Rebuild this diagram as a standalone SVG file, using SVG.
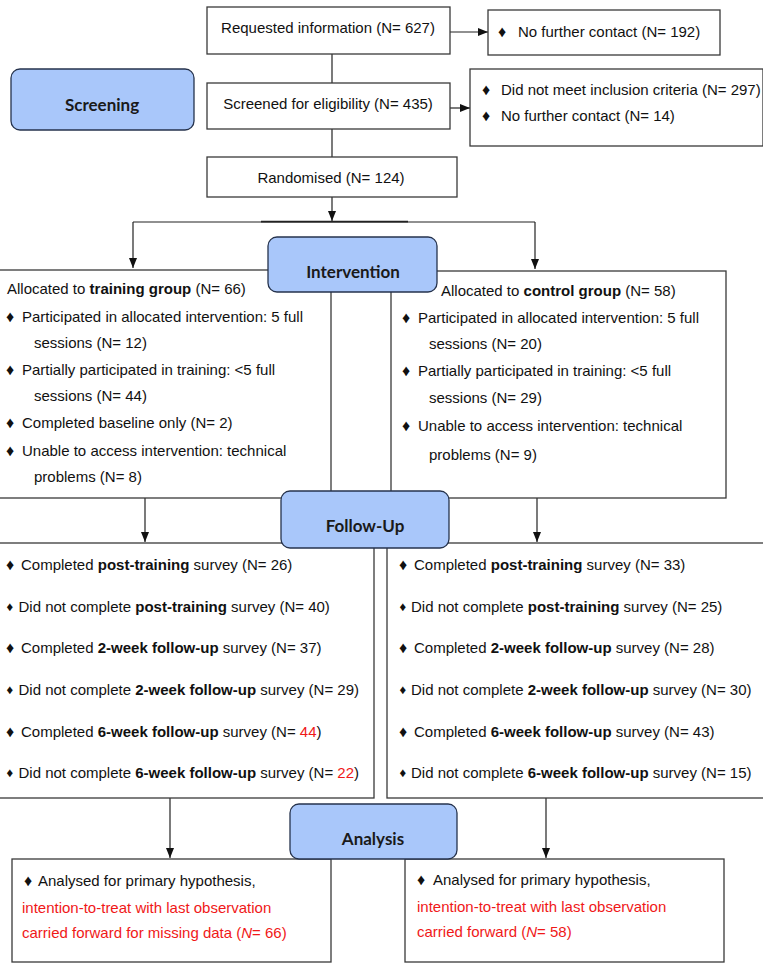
<svg xmlns="http://www.w3.org/2000/svg" width="763" height="972" viewBox="0 0 763 972">
<style>
.box{fill:#fff;stroke:#3a3a3a;stroke-width:1.3}
.lbl{fill:#a9c7fa;stroke:#26334d;stroke-width:1.3}
.t{font-family:"Liberation Sans",Arial,sans-serif;font-size:15px;fill:#111}
.b{font-weight:bold}
.r{fill:#f01818}
.bu{font-family:"Liberation Sans",Arial,sans-serif;font-size:16px;fill:#111}
.bs{font-family:"Liberation Sans",Arial,sans-serif;font-size:13px;fill:#111}
.h{font-family:Lato,"Open Sans",sans-serif;font-weight:bold;font-size:17px;fill:#1a1a1a;text-anchor:middle}
.c{fill:none;stroke:#222;stroke-width:1.2}
</style>
<defs>
<marker id="ah" markerUnits="userSpaceOnUse" markerWidth="10" markerHeight="10" viewBox="0 0 10 10" refX="10" refY="5" orient="auto">
<path d="M0,1 L10,5 L0,9 Z" fill="#111"/>
</marker>
</defs>
<rect width="763" height="972" fill="#fff"/>

<g id="connectors">
<line class="c" x1="332" y1="54" x2="332" y2="83"/>
<line class="c" x1="450" y1="32" x2="488" y2="32" marker-end="url(#ah)"/>
<line class="c" x1="450" y1="108" x2="470" y2="108" marker-end="url(#ah)"/>
<line class="c" x1="332" y1="129" x2="332" y2="157"/>
<line class="c" x1="332" y1="197" x2="332" y2="221" marker-end="url(#ah)"/>
<polyline class="c" points="133,222 535,222"/>
<line x1="261" y1="221.6" x2="408" y2="221.6" stroke="#222" stroke-width="1.6"/>
<line class="c" x1="133" y1="222" x2="133" y2="268" marker-end="url(#ah)"/>
<line class="c" x1="535" y1="222" x2="535" y2="269" marker-end="url(#ah)"/>
<line class="c" x1="145" y1="498" x2="145" y2="542" marker-end="url(#ah)"/>
<line class="c" x1="537" y1="498" x2="537" y2="542" marker-end="url(#ah)"/>
<line class="c" x1="170" y1="798" x2="170" y2="858" marker-end="url(#ah)"/>
<line class="c" x1="546" y1="798" x2="546" y2="858" marker-end="url(#ah)"/>
</g>

<g id="requested">
<rect class="box" x="207" y="7" width="243" height="47"/>
<text class="t" x="328" y="33" text-anchor="middle">Requested information (N= 627)</text>
</g>
<g id="no-contact-1">
<rect class="box" x="488" y="10" width="232" height="45"/>
<text class="bu" x="498" y="37">♦</text>
<text class="t" x="518" y="37">No further contact (N= 192)</text>
</g>
<g id="screening-label">
<rect class="lbl" x="11" y="69" width="183" height="61" rx="9"/>
<text class="h" x="102" y="111">Screening</text>
</g>
<g id="screened">
<rect class="box" x="207" y="83" width="243" height="46"/>
<text class="t" x="328" y="109" text-anchor="middle">Screened for eligibility (N= 435)</text>
</g>
<g id="excluded">
<rect class="box" x="470" y="69" width="293" height="77"/>
<text class="bu" x="482" y="95">♦</text>
<text class="t" x="501" y="95">Did not meet inclusion criteria (N= 297)</text>
<text class="bu" x="482" y="121">♦</text>
<text class="t" x="501" y="121">No further contact (N= 14)</text>
</g>
<g id="randomised">
<rect class="box" x="207" y="157" width="250" height="40"/>
<text class="t" x="331" y="183" text-anchor="middle">Randomised (N= 124)</text>
</g>

<g id="training-group">
<rect class="box" x="-2" y="270" width="333" height="228"/>
<text class="t" x="7" y="294">Allocated to <tspan class="b">training group</tspan> (N= 66)</text>
<text class="bu" x="6" y="322">♦</text>
<text class="t" x="22" y="322">Participated in allocated intervention: 5 full</text>
<text class="t" x="34" y="348">sessions (N= 12)</text>
<text class="bu" x="6" y="375">♦</text>
<text class="t" x="22" y="375">Partially participated in training: &lt;5 full</text>
<text class="t" x="34" y="401">sessions (N= 44)</text>
<text class="bu" x="6" y="428">♦</text>
<text class="t" x="22" y="428">Completed baseline only (N= 2)</text>
<text class="bu" x="6" y="456">♦</text>
<text class="t" x="22" y="456">Unable to access intervention: technical</text>
<text class="t" x="34" y="482">problems (N= 8)</text>
</g>
<g id="control-group">
<rect class="box" x="391" y="271" width="335" height="227"/>
<text class="t" x="441" y="296">Allocated to <tspan class="b">control group</tspan> (N= 58)</text>
<text class="bu" x="402" y="323">♦</text>
<text class="t" x="418" y="323">Participated in allocated intervention: 5 full</text>
<text class="t" x="429" y="349">sessions (N= 20)</text>
<text class="bu" x="402" y="376">♦</text>
<text class="t" x="418" y="376">Partially participated in training: &lt;5 full</text>
<text class="t" x="429" y="403">sessions (N= 29)</text>
<text class="bu" x="402" y="431">♦</text>
<text class="t" x="418" y="431">Unable to access intervention: technical</text>
<text class="t" x="429" y="460">problems (N= 9)</text>
</g>
<g id="intervention-label">
<rect class="lbl" x="268" y="237" width="169" height="55" rx="9"/>
<text class="h" x="353" y="278">Intervention</text>
</g>

<g id="followup-training">
<rect class="box" x="-2" y="543" width="376" height="255"/>
<text class="bu" x="6" y="570">♦</text>
<text class="t" x="21" y="570">Completed <tspan class="b">post-training</tspan> survey (N= 26)</text>
<text class="bs" x="6.5" y="611">♦</text>
<text class="t" x="18.5" y="612">Did not complete <tspan class="b">post-training</tspan> survey (N= 40)</text>
<text class="bu" x="6" y="653">♦</text>
<text class="t" x="21" y="653">Completed <tspan class="b">2-week follow-up</tspan> survey (N= 37)</text>
<text class="bs" x="6.5" y="694">♦</text>
<text class="t" x="18.5" y="695">Did not complete <tspan class="b">2-week follow-up</tspan> survey (N= 29)</text>
<text class="bu" x="6" y="737">♦</text>
<text class="t" x="21" y="737">Completed <tspan class="b">6-week follow-up</tspan> survey (N= <tspan class="r">44</tspan>)</text>
<text class="bs" x="6.5" y="777">♦</text>
<text class="t" x="18.5" y="778">Did not complete <tspan class="b">6-week follow-up</tspan> survey (N= <tspan class="r">22</tspan>)</text>
</g>
<g id="followup-control">
<rect class="box" x="387" y="543" width="378" height="255"/>
<text class="bu" x="399" y="570">♦</text>
<text class="t" x="414" y="570">Completed <tspan class="b">post-training</tspan> survey (N= 33)</text>
<text class="bs" x="399.5" y="611">♦</text>
<text class="t" x="411" y="612">Did not complete <tspan class="b">post-training</tspan> survey (N= 25)</text>
<text class="bu" x="399" y="653">♦</text>
<text class="t" x="414" y="653">Completed <tspan class="b">2-week follow-up</tspan> survey (N= 28)</text>
<text class="bs" x="399.5" y="694">♦</text>
<text class="t" x="411" y="695">Did not complete <tspan class="b">2-week follow-up</tspan> survey (N= 30)</text>
<text class="bu" x="399" y="737">♦</text>
<text class="t" x="414" y="737">Completed <tspan class="b">6-week follow-up</tspan> survey (N= 43)</text>
<text class="bs" x="399.5" y="777">♦</text>
<text class="t" x="411" y="778">Did not complete <tspan class="b">6-week follow-up</tspan> survey (N= 15)</text>
</g>
<g id="followup-label">
<rect class="lbl" x="281" y="491" width="168" height="57" rx="9"/>
<text class="h" x="365" y="532">Follow-Up</text>
</g>

<g id="analysis-training">
<rect class="box" x="12" y="859" width="319" height="103"/>
<text class="bu" x="24" y="886">♦</text>
<text class="t" x="38" y="886">Analysed for primary hypothesis,</text>
<text class="t r" x="22" y="913">intention-to-treat with last observation</text>
<text class="t r" x="22" y="938">carried forward for missing data (<tspan font-style="italic">N</tspan>= 66)</text>
</g>
<g id="analysis-control">
<rect class="box" x="405" y="859" width="319" height="103"/>
<text class="bu" x="417" y="885">♦</text>
<text class="t" x="433" y="885">Analysed for primary hypothesis,</text>
<text class="t r" x="417" y="912">intention-to-treat with last observation</text>
<text class="t r" x="417" y="937">carried forward (<tspan font-style="italic">N</tspan>= 58)</text>
</g>
<g id="analysis-label">
<rect class="lbl" x="290" y="804" width="167" height="55" rx="9"/>
<text class="h" x="373" y="845">Analysis</text>
</g>
</svg>
